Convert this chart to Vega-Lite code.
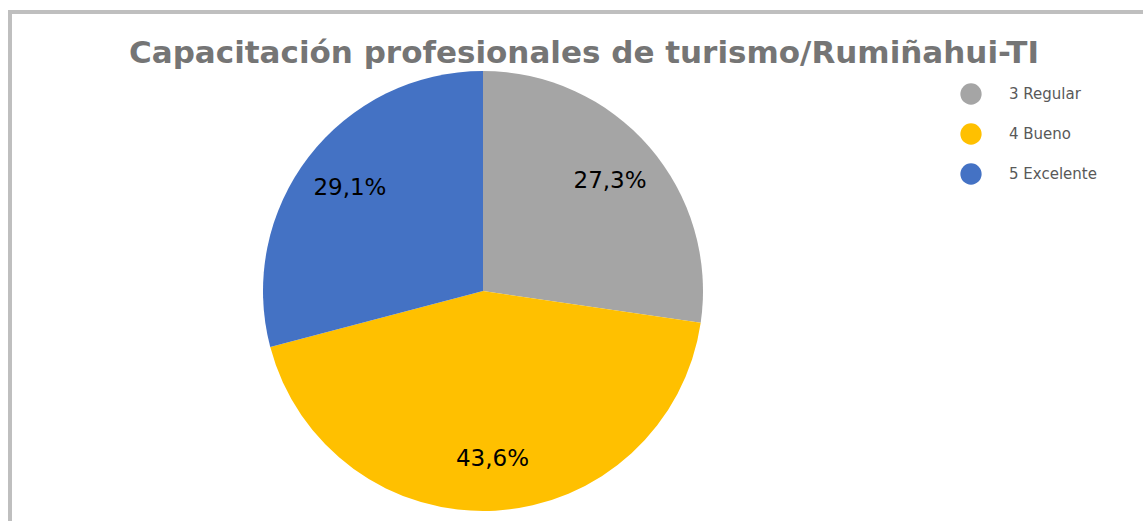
{
  "$schema": "https://vega.github.io/schema/vega-lite/v6.json",
  "width": 946,
  "height": 558,
  "autosize": {"type": "none"},
  "padding": {"left": 10, "top": 12, "right": 187, "bottom": 0},
  "background": "white",
  "view": {"stroke": "#BFBFBF", "strokeWidth": 4, "strokeDash": [946, 1504, 558]},
  "config": {
    "locale": {"number": {"decimal": ",", "thousands": ".", "grouping": [3], "currency": ["", " €"]}},
    "legend": {
      "padding": 71,
      "strokeColor": "#BFBFBF",
      "strokeWidth": 4,
      "strokeDash": [400, 3000]
    }
  },
  "title": {
    "text": "Capacitación profesionales de turismo/Rumiñahui-TI",
    "font": "DejaVu Sans",
    "fontSize": 31,
    "fontWeight": "bold",
    "color": "#757575",
    "anchor": "middle",
    "frame": "group",
    "offset": -60,
    "dx": 101
  },
  "data": {
    "values": [
      {"categoria": "3 Regular", "porcentaje": 0.273},
      {"categoria": "4 Bueno", "porcentaje": 0.436},
      {"categoria": "5 Excelente", "porcentaje": 0.291}
    ]
  },
  "encoding": {
    "theta": {"field": "porcentaje", "type": "quantitative", "stack": true},
    "order": {"field": "categoria", "type": "ordinal", "sort": "ascending"},
    "color": {
      "field": "categoria",
      "type": "nominal",
      "scale": {"domain": ["3 Regular", "4 Bueno", "5 Excelente"], "range": ["#A5A5A5", "#FFC000", "#4472C4"]},
      "legend": {
        "title": null,
        "orient": "none",
        "legendX": 879,
        "legendY": 0,
        "symbolType": "circle",
        "symbolSize": 452,
        "symbolStrokeWidth": 0,
        "labelFont": "DejaVu Sans",
        "labelFontSize": 15,
        "labelColor": "#595959",
        "labelOffset": 27,
        "rowPadding": 18
      }
    }
  },
  "layer": [
    {"mark": {"type": "arc", "outerRadius": 220}},
    {
      "mark": {"type": "text", "radius": 168, "font": "DejaVu Sans", "fontSize": 23},
      "encoding": {
        "text": {"field": "porcentaje", "type": "quantitative", "format": ".1%"},
        "color": {"value": "#000000"}
      }
    }
  ]
}
